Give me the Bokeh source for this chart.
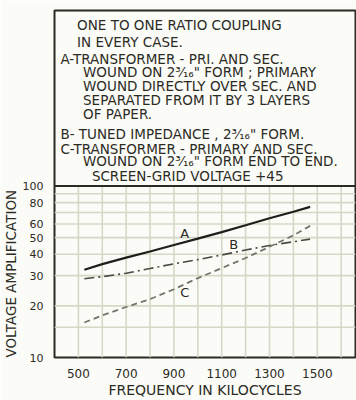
from bokeh.plotting import figure
from bokeh.models import Range1d, FixedTicker, Span, Title
from bokeh.core.properties import value
from bokeh.embed import file_html
from bokeh.resources import INLINE

# ---- data ----
freq = [525, 600, 700, 800, 900, 1000, 1100, 1200, 1300, 1400, 1470]
curve_a = [32.5, 35.0, 38.2, 41.5, 45.3, 49.3, 53.8, 59.0, 64.8, 70.8, 75.5]
curve_b = [28.8, 29.6, 31.0, 33.0, 35.2, 37.2, 39.6, 42.3, 45.0, 47.3, 49.0]
curve_c = [16.0, 17.6, 19.7, 21.9, 25.0, 29.0, 33.2, 38.0, 44.2, 51.5, 58.5]

curve_names = ["A", "B", "C"]
name_freq = [945, 1150, 945]
name_val = [53.0, 45.5, 23.8]

x_ticks = [500, 700, 900, 1100, 1300, 1500]
x_grid = [500, 600, 700, 800, 900, 1000, 1100, 1200, 1300, 1400, 1500, 1600]
y_ticks = [10, 20, 30, 40, 50, 60, 80, 100]
y_grid = [15, 20, 30, 40, 50, 60, 70, 80, 90]

note_lines = [
    "ONE TO ONE RATIO COUPLING",
    "IN EVERY CASE.",
    "A-TRANSFORMER - PRI. AND SEC.",
    "WOUND ON 2³⁄₁₆\" FORM ; PRIMARY",
    "WOUND DIRECTLY OVER SEC. AND",
    "SEPARATED FROM IT BY 3 LAYERS",
    "OF PAPER.",
    "B- TUNED IMPEDANCE , 2³⁄₁₆\" FORM.",
    "C-TRANSFORMER - PRIMARY AND SEC.",
    "WOUND ON 2³⁄₁₆\" FORM END TO END.",
    "SCREEN-GRID VOLTAGE +45",
]
# layout of the note lines: pixel offsets from the box's top-left corner
note_dx = [23, 23, 6, 29, 29, 29, 29, 6, 6, 29, 38]
note_dy = [15.3, 32, 49.5, 62.5, 77, 91.3, 105.5, 125.7, 141.3, 153.3, 168.7]

FONT = "DejaVu Sans"
INK = "#2b2b24"
BG = "#fbfbf8"
GRID = "#d6d8c6"

# ---- geometry ----
W, H = 356, 400
TOP, LEFT, RIGHT, BOTTOM = 10, 49, 1, 36
X0, X1 = 400, 1660
frame_w = W - LEFT - RIGHT
frame_h = H - TOP - BOTTOM
box_px = 179                         # height of the note box above 100
decade_px = frame_h - box_px         # pixels per decade of the grid
y_top = 100 * 10 ** (box_px / decade_px)

def px_to_x(dx):
    return X0 + dx * (X1 - X0) / frame_w

def px_to_y(dy):
    return 100 * 10 ** ((box_px - dy) / decade_px)

p = figure(width=W, height=H, output_backend="svg", toolbar_location=None,
           y_axis_type="log", x_range=Range1d(X0, X1), y_range=Range1d(10, y_top),
           min_border_left=LEFT, min_border_right=RIGHT, min_border_top=TOP,
           min_border_bottom=BOTTOM)
p.background_fill_color = BG
p.border_fill_color = BG
p.outline_line_color = INK
p.outline_line_width = 2
p.grid.visible = False

# grid only inside the chart part (10..100)
p.segment(x0=x_grid, y0=[10] * len(x_grid), x1=x_grid, y1=[100] * len(x_grid),
          line_color=GRID, line_width=1.6)
p.segment(x0=[X0] * len(y_grid), y0=y_grid, x1=[X1] * len(y_grid), y1=y_grid,
          line_color=GRID, line_width=1.6)
p.add_layout(Span(location=100, dimension="width", line_color=INK, line_width=2))

p.xaxis.ticker = FixedTicker(ticks=x_ticks)
p.yaxis.ticker = FixedTicker(ticks=y_ticks)
p.yaxis.major_label_overrides = {v: str(v) for v in y_ticks}

for ax in (p.xaxis, p.yaxis):
    ax.axis_line_color = None
    ax.major_tick_line_color = None
    ax.minor_tick_line_color = None
    ax.major_label_text_font = FONT
    ax.major_label_text_color = INK
    ax.axis_label_text_font = FONT
    ax.axis_label_text_font_style = "normal"
    ax.axis_label_text_color = INK

p.xaxis.major_label_text_font_size = "12px"
p.xaxis.major_label_standoff = 5
p.xaxis.axis_label = "FREQUENCY IN KILOCYCLES"
p.xaxis.axis_label_text_font_size = "14px"
p.xaxis.axis_label_standoff = 1

p.yaxis.major_label_text_font_size = "11px"
p.yaxis.major_label_standoff = 5

# y title placed along the chart part only (bottom-aligned on the left side)
p.add_layout(Title(text="VOLTAGE AMPLIFICATION", align="left", offset=0,
                   text_font=FONT, text_font_size="13.5px",
                   text_font_style="normal", text_color=INK,
                   standoff=1), "left")

p.line(freq, curve_a, line_color="#1e1e1a", line_width=2.2)
p.line(freq, curve_b, line_color="#4a4a42", line_width=1.6, line_dash="10 4 2 4")
p.line(freq, curve_c, line_color="#75756a", line_width=1.8, line_dash="6 4")

p.text(x=name_freq, y=name_val, text=curve_names, text_font=value(FONT),
       text_font_size="13px", text_color=INK, text_align="center",
       text_baseline="middle")

p.text(x=[px_to_x(d) for d in note_dx], y=[px_to_y(d) for d in note_dy],
       text=note_lines, text_font=value(FONT), text_font_size="13.5px",
       text_color=INK, text_align="left", text_baseline="middle")

open("out.html", "w").write(file_html(p, INLINE))
